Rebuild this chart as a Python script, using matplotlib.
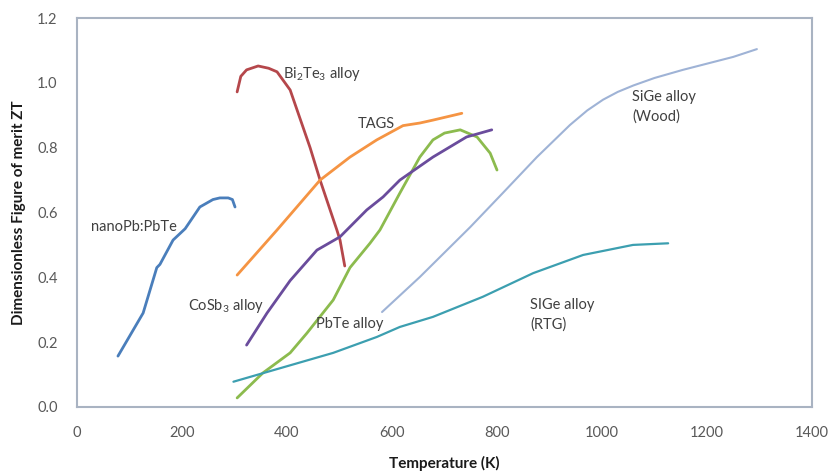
import matplotlib
matplotlib.use("Agg")
import matplotlib.pyplot as plt
import numpy as np

plt.rcParams['font.family'] = ['Lato', 'DejaVu Sans']
plt.rcParams['mathtext.fontset'] = 'custom'
plt.rcParams['mathtext.rm'] = 'Lato'
plt.rcParams['mathtext.it'] = 'Lato:italic'
plt.rcParams['mathtext.bf'] = 'Lato:bold'

# Data (Temperature K, ZT)
nano_T  = [78, 126, 139, 152, 158, 183, 206, 234, 259, 272, 288, 296, 301]
nano_ZT = [0.157, 0.29, 0.36, 0.43, 0.44, 0.515, 0.55, 0.617, 0.64, 0.645, 0.645, 0.64, 0.617]

bite_T  = [305, 312, 323, 345, 365, 381, 406, 444, 463, 495, 501, 510]
bite_ZT = [0.972, 1.02, 1.04, 1.052, 1.045, 1.034, 0.978, 0.80, 0.70, 0.546, 0.515, 0.435]

tags_T  = [305, 381, 463, 520, 571, 621, 653, 678, 733]
tags_ZT = [0.407, 0.546, 0.70, 0.771, 0.824, 0.868, 0.876, 0.885, 0.906]

pbte_T  = [305, 354, 406, 438, 488, 520, 558, 577, 615, 653, 678, 700, 730, 762, 787, 800]
pbte_ZT = [0.028, 0.105, 0.167, 0.228, 0.33, 0.43, 0.505, 0.546, 0.66, 0.771, 0.824, 0.845, 0.855, 0.833, 0.783, 0.731]

cosb_T  = [323, 362, 406, 457, 501, 552, 583, 615, 678, 742, 790]
cosb_ZT = [0.191, 0.29, 0.39, 0.484, 0.525, 0.608, 0.648, 0.70, 0.771, 0.833, 0.855]

wood_T  = [581, 653, 749, 811, 876, 939, 972, 1002, 1030, 1060, 1100, 1154, 1250, 1295]
wood_ZT = [0.293, 0.401, 0.555, 0.66, 0.771, 0.87, 0.915, 0.948, 0.972, 0.992, 1.015, 1.04, 1.08, 1.104]

rtg_T  = [298, 362, 488, 571, 615, 678, 773, 869, 964, 1059, 1126]
rtg_ZT = [0.078, 0.108, 0.167, 0.216, 0.247, 0.278, 0.34, 0.413, 0.469, 0.50, 0.505]

x_ticks = [0, 200, 400, 600, 800, 1000, 1200, 1400]
y_ticks = [0.0, 0.2, 0.4, 0.6, 0.8, 1.0, 1.2]

fig = plt.figure(figsize=(8.3, 4.72), dpi=100)
ax = fig.add_axes([77/830, 1-407/472, (812-77)/830, (407-18)/472])

kw = dict(solid_joinstyle='round', solid_capstyle='round')
lw = 2.0
ax.plot(nano_T, nano_ZT, color='#4a7ebb', lw=lw, **kw)
ax.plot(bite_T, bite_ZT, color='#b5474b', lw=lw, **kw)
ax.plot(tags_T, tags_ZT, color='#f59443', lw=lw, **kw)
ax.plot(pbte_T, pbte_ZT, color='#8cbb4e', lw=lw, **kw)
ax.plot(cosb_T, cosb_ZT, color='#6a4c9c', lw=lw, **kw)
ax.plot(wood_T, wood_ZT, color='#9fb3d6', lw=1.5, **kw)
ax.plot(rtg_T, rtg_ZT, color='#3c9fb0', lw=1.6, **kw)

ax.set_xlim(0, 1400)
ax.set_ylim(0, 1.2)
ax.set_xticks(x_ticks)
ax.set_yticks(y_ticks)
ax.set_yticklabels([f"{v:.1f}" for v in y_ticks])
ax.tick_params(length=0, labelsize=10.5, labelcolor='#595959')
ax.tick_params(axis='x', pad=14)
ax.tick_params(axis='y', pad=14)
for s in ax.spines.values():
    s.set_color('#a9b3c2')
    s.set_linewidth(1.5)

ax.set_xlabel('Temperature (K)', fontsize=11, fontweight='bold', color='#1a1a1a', labelpad=11)
ax.set_ylabel('Dimensionless Figure of merit ZT', fontsize=11, fontweight='bold', color='#1a1a1a', labelpad=8)

tc = '#404040'
fs = 10.5
ax.text(393, 1.027, 'Bi$_2$Te$_3$ alloy', fontsize=fs, color=tc, va='center')
ax.text(535, 0.873, 'TAGS', fontsize=fs, color=tc, va='center')
ax.text(1057, 0.925, 'SiGe alloy\n(Wood)', fontsize=fs, color=tc, va='center', linespacing=1.45)
ax.text(27, 0.555, 'nanoPb:PbTe', fontsize=fs, color=tc, va='center')
ax.text(211, 0.312, 'CoSb$_3$ alloy', fontsize=fs, color=tc, va='center')
ax.text(455, 0.256, 'PbTe alloy', fontsize=fs, color=tc, va='center')
ax.text(863, 0.285, 'SIGe alloy\n(RTG)', fontsize=fs, color=tc, va='center', linespacing=1.45)

fig.savefig('out.png', dpi=100)
